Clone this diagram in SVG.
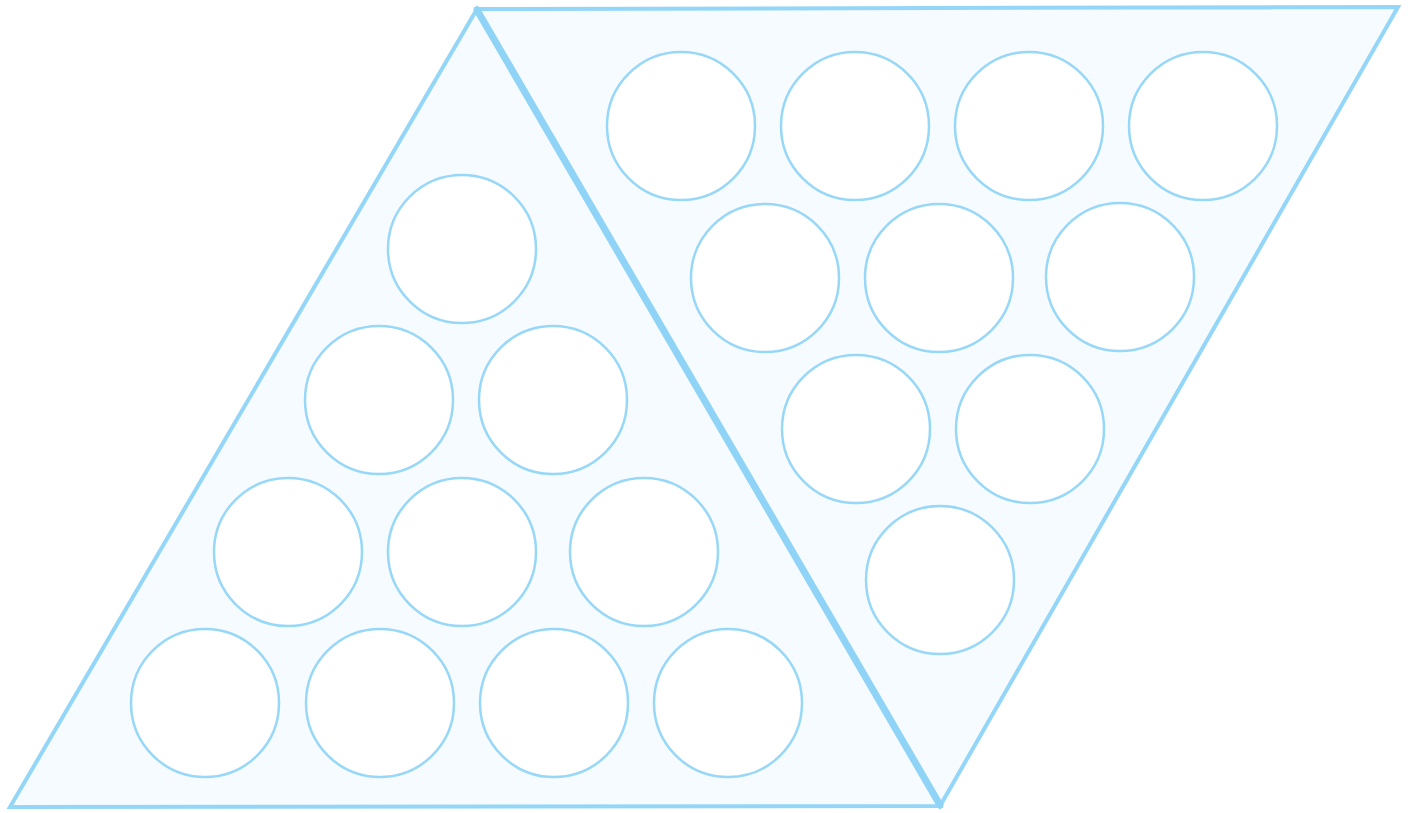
<svg xmlns="http://www.w3.org/2000/svg" width="1415" height="813" viewBox="0 0 1415 813">
<style>
.tri{fill:#f5fbfe;stroke:#93d6f8;stroke-width:4;stroke-linejoin:miter}
.c{fill:#ffffff;stroke:#97d7f7;stroke-width:2.5}
.mid{stroke:#8fd3f7;stroke-width:7;stroke-linecap:round}
</style>
<rect width="1415" height="813" fill="#ffffff"/>
<g id="left-triangle">
<polygon class="tri" points="10,807 477,9 940,806"/>
</g>
<g id="right-triangle">
<polygon class="tri" points="477,9 1398,7 940,806"/>
</g>
<g id="divider">
<line class="mid" x1="477" y1="10" x2="940" y2="805"/>
</g>
<g id="left-circles">
<circle class="c" cx="462" cy="249" r="74"/>
<circle class="c" cx="379" cy="400" r="74"/>
<circle class="c" cx="553" cy="400" r="74"/>
<circle class="c" cx="288" cy="552" r="74"/>
<circle class="c" cx="462" cy="552" r="74"/>
<circle class="c" cx="644" cy="552" r="74"/>
<circle class="c" cx="205" cy="703" r="74"/>
<circle class="c" cx="380" cy="703" r="74"/>
<circle class="c" cx="554" cy="703" r="74"/>
<circle class="c" cx="728" cy="703" r="74"/>
</g>
<g id="right-circles">
<circle class="c" cx="681" cy="126" r="74"/>
<circle class="c" cx="855" cy="126" r="74"/>
<circle class="c" cx="1029" cy="126" r="74"/>
<circle class="c" cx="1203" cy="126" r="74"/>
<circle class="c" cx="765" cy="278" r="74"/>
<circle class="c" cx="939" cy="278" r="74"/>
<circle class="c" cx="1120" cy="277" r="74"/>
<circle class="c" cx="856" cy="429" r="74"/>
<circle class="c" cx="1030" cy="429" r="74"/>
<circle class="c" cx="940" cy="580" r="74"/>
</g>
</svg>
